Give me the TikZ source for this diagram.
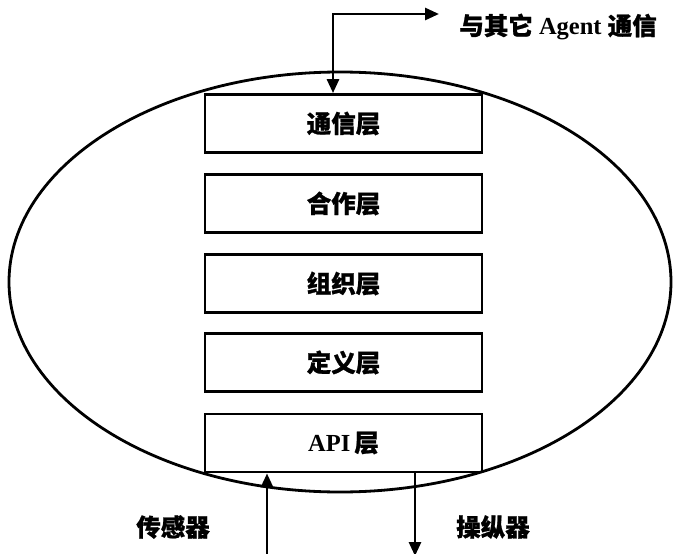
\documentclass[tikz,border=0pt]{standalone}
\usepackage{fontspec}
\setmainfont{Liberation Serif}
\newfontfamily\cjk{Noto Sans CJK SC}[FakeBold=1]
\usetikzlibrary{arrows.meta}
\begin{document}
\begin{tikzpicture}[x=1pt,y=-1pt,
  line width=2.8pt,
  layer/.style={draw,line width=2.8pt,minimum width=277pt,minimum height=58pt,inner sep=0pt,font=\fontsize{24.5}{26}\selectfont\bfseries},
  lbl/.style={inner sep=0pt,font=\fontsize{24.5}{26}\selectfont\bfseries},
  tip/.style={-{Triangle[length=14pt,width=12pt]}},
  tips/.style={{Triangle[length=14pt,width=12pt]}-{Triangle[length=14pt,width=12pt]}}]
\useasboundingbox (0,0) rectangle (673,554);
\draw (340,282) ellipse [x radius=331pt, y radius=210pt];
\node[layer] (l1) at (343.5,123.5) {\cjk 通信层};
\node[layer] (l2) at (343.5,203.5) {\cjk 合作层};
\node[layer] (l3) at (343.5,283.5) {\cjk 组织层};
\node[layer] (l4) at (343.5,362.5) {\cjk 定义层};
\node[layer] (l5) at (343.5,443) {API\,{\cjk 层}};
\coordinate (c1) at (333,14);
\coordinate (c2) at (439,14);
\node[lbl,anchor=west] (agent) at (458,27) {{\cjk 与其它} Agent {\cjk 通信}};
\draw[tips] (c2) -- (c1) -- (c1 |- l1.north);
\coordinate (s) at (267,556);
\coordinate (a) at (415,556);
\draw[tip] (s) -- (s |- l5.south);
\draw[tip] (a |- l5.south) -- (a);
\node[lbl] (sensor) at (173,527) {\cjk 传感器};
\node[lbl] (act) at (493,527) {\cjk 操纵器};
\end{tikzpicture}
\end{document}
